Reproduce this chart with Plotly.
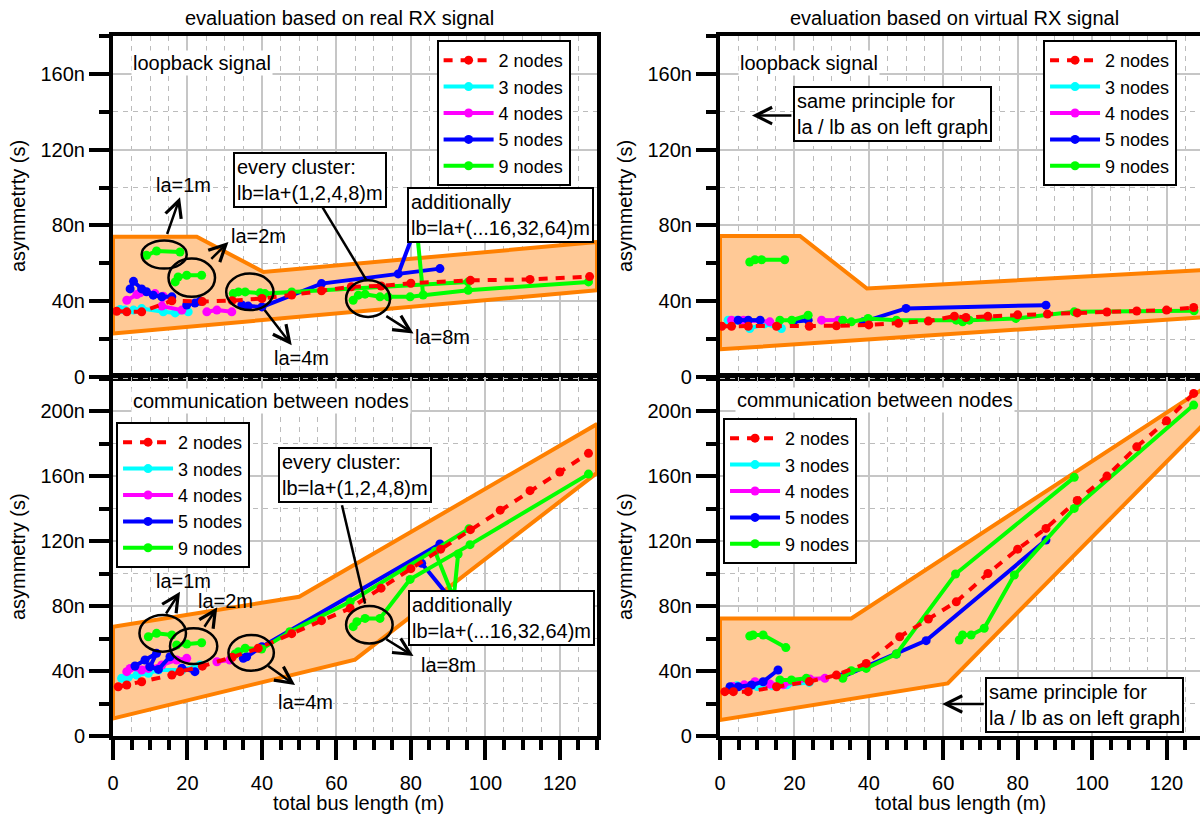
import plotly.graph_objects as go

FONT = "Liberation Sans, Arial, sans-serif"

# ---------------- data (x: total bus length in m, y: asymmetry in ns) ----------------
series_names = ["2 nodes", "3 nodes", "4 nodes", "5 nodes", "9 nodes"]
y_tick_vals_top = [0, 40, 80, 120, 160]
y_tick_text_top = ["0", "40n", "80n", "120n", "160n"]
y_tick_vals_bot = [0, 40, 80, 120, 160, 200]
y_tick_text_bot = ["0", "40n", "80n", "120n", "160n", "200n"]

# ---- top-left: loopback, real RX ----
band_tl_x = [0, 22.5, 40.4, 130, 130, 0, 0]
band_tl_y = [74, 74, 55.4, 71.2, 45.8, 23, 74]
red_tl_x = [1, 3.7, 7.7, 15.8, 24, 32, 40, 48, 56, 64, 72, 80, 96, 112, 128]
red_tl_y = [34.7, 34.4, 34.4, 40.2, 39.8, 40.3, 41.4, 43.3, 45.5, 47.6, 48, 49.5, 51, 51.5, 53]
cyan_tl_x = [1.9, 3.2, 5.5, 7.7, 13.5, 16.7, 20.2]
cyan_tl_y = [35.6, 35.3, 35.3, 36.1, 34.4, 33.8, 34.4]
mag_tl_x = [3.7, 6.4, 7.3, 11.3, 13.5, 13.1, 18.5, None, 25.2, 27.9, 31.9]
mag_tl_y = [40.5, 43.5, 44.4, 44, 42.6, 37.4, 35.3, None, 34.4, 35.3, 34.4]
blue_tl_x = [4.6, 5.5, 7.7, 9.0, 10.8, 13.1, 15.8, None, 19.8, 22, 23.4, None,
             34.6, 36.3, 40, 56, 87.8, None, 76.6, 81.5]
blue_tl_y = [46.5, 50.5, 46.5, 45, 43.2, 42.3, 42.3, None, 38, 39, 40, None,
             38, 37.4, 37, 49.3, 57.2, None, 54.4, 80]
green_tl_x = [9.0, 11.7, 18.0, None, 16.7, 17.5, 19.8, 23.8, None,
              32.3, 33.7, 35.5, 39.5, 40.8, 48, 95.4, None,
              64.5, 65.9, 67.7, 71.7, 73.9, 79.8, 95.4, 127.7, None, 83.3, 81.5]
green_tl_y = [64.2, 66.5, 66.0, None, 50.2, 52.8, 53.7, 53.7, None,
              44, 44.9, 44.9, 44.4, 44, 44.9, 50.2, None,
              40.5, 43.2, 43.7, 42.3, 42.3, 42.3, 45.8, 50.2, None, 43.3, 80]

# ---- top-right: loopback, virtual RX ----
band_tr_x = [0, 21.5, 39.5, 130, 130, 0, 0]
band_tr_y = [74.4, 74.4, 46.7, 56.5, 31.5, 14.6, 74.4]
red_tr_x = [0.5, 3.1, 7.6, 15.2, 24, 31.3, 40, 48, 56, 63, 66.1, 72, 80, 88, 96, 104, 112, 120, 127.3]
red_tr_y = [26.8, 26.8, 26.8, 26.8, 26.8, 27, 27.5, 28.3, 29.5, 32.1, 31.4, 32, 32.8, 33.2, 33.8, 34.3, 34.8, 35.3, 36.7]
cyan_tr_x = [2.2, 4.5, 8, 12, 16.5]
cyan_tr_y = [30, 30, 25.6, 28, 25.6]
mag_tr_x = [3.1, 6.3, 13.4, None, 27.3, 31.8]
mag_tr_y = [30, 30, 29.1, None, 30, 30]
blue_tr_x = [4.9, 7.6, 10.8, None, 19.7, 23.7, None, 38.5, 50, 87.6]
blue_tr_y = [30, 30, 30, None, 29.1, 30, None, 29.1, 36.2, 37.9]
green_tr_x = [8, 9.4, 11.2, 17.4, None, 16.1, 19.3, 23.7, None,
              33, 35.3, 39.8, 47.4, 63.5, 65.2, 67, 79.5, 95.2, 127.4]
green_tr_y = [60.7, 61.9, 61.9, 61.9, None, 30, 30, 32.6, None,
              30, 29.1, 30.9, 30, 30, 29.1, 30, 30.9, 34.4, 34.9]

# ---- bottom-left: communication, real RX ----
band_bl_x = [0, 50, 130, 130, 65, 0, 0]
band_bl_y = [67.3, 85.7, 192, 162, 47, 10.8, 67.3]
red_bl_x = [1.4, 3.7, 7.7, 15.8, 18, 24, 32, 39, 48, 56, 63.7, 72, 80, 88, 96, 104, 112, 120, 127.7]
red_bl_y = [30.3, 31.4, 33.4, 37.5, 39.6, 43, 48.5, 54, 63, 71, 78.6, 91, 103, 115, 127, 139, 151, 162.5, 174]
cyan_bl_x = [2.3, 4.1, 6.4, 9.5, 12.2, 18.5, 23.4]
cyan_bl_y = [35.5, 36.1, 37.5, 38.6, 40.6, 40.6, 43.7]
mag_bl_x = [3.7, 4.6, 7.7, 9.5, 13.1, 17.1, 19.8, None, 27.9, 31.4]
mag_bl_y = [39.6, 41.6, 40.6, 41.6, 43.7, 46.8, 47.8, None, 45.7, 46.8]
blue_bl_x = [5.9, 8.6, 11.7, 9.9, 12.2, 15.3, None, 18.5, 22, None,
             35, 35.9, 40, 87.8, None, 82.9, 90.5]
blue_bl_y = [43.1, 46.8, 50.9, 42.6, 41, 48.8, None, 41.7, 39.6, None,
             47.8, 48.8, 55, 118.2, None, 106.3, 85]
green_bl_x = [9.5, 11.7, 15.8, None, 17.1, 19.8, 23.8, None,
              32.8, 33.7, 35.5, 39.9, 47.5, 63.7, 95.6, None,
              64.5, 65.5, 67.7, 71.7, 79.8, 95.9, 127.7, None, 86.5, 91.5, 92.7]
green_bl_y = [61.1, 63.2, 62.2, None, 56, 56.6, 57.4, None,
              50.5, 51.9, 54, 53.5, 64.2, 82.6, 127.5, None,
              67.3, 70.4, 72.4, 72.4, 96.4, 117.8, 161.2, None, 113.5, 85, 112]

# ---- bottom-right: communication, virtual RX ----
band_br_x = [0, 35.3, 130, 130, 61.2, 0, 0]
band_br_y = [72.4, 72.4, 214, 192, 32.4, 9.8, 72.4]
red_br_x = [1.3, 3.6, 7.6, 15.2, 24, 31.3, 39.3, 48.3, 56, 63.5, 72, 80, 87.6, 96, 104, 112, 120, 127.3]
red_br_y = [27.3, 27.3, 27.3, 30.3, 33.5, 37.5, 44.7, 61.1, 72, 82.6, 100, 115, 127.8, 145, 160, 178, 194, 210.9]
cyan_br_x = [2.5, 4.5, 7, 10, 14, 18, 24]
cyan_br_y = [29, 31, 29, 30.5, 31, 31.5, 33]
mag_br_x = [3.5, 6.5, 9.4, 13.4, 17, 24.1, 28.2]
mag_br_y = [30.5, 31.5, 33.4, 32, 31.5, 35.1, 35.5]
blue_br_x = [2.7, 4.9, 8.5, 11.6, 15.6, None, 33, 47.4, 55.4, 87.6]
blue_br_y = [30.3, 30.3, 31.4, 33.4, 40.6, None, 36.5, 50.5, 58.7, 120.6]
green_br_x = [8, 8.9, 11.6, 17.7, None, 16.1, 19.2, 23.2, None,
              33, 35.3, 39.3, 47.4, 63.3, 95.2, None,
              64.3, 65.2, 67.5, 71, 79.1, 95.2, 127.3]
green_br_y = [61.5, 62.2, 62.2, 54.4, None, 34.5, 34.5, 35.5, None,
              35.5, 40.2, 41.6, 50.5, 99.7, 159.2, None,
              59.1, 62.2, 62.2, 66.3, 99.1, 140.1, 203.7]

# ---------------- figure ----------------
fig = go.Figure()
COLORS = ["#ff0000", "#00ffff", "#ff00ff", "#0000ff", "#00ff00"]

panels = [
    ("x", "y", "legend", (band_tl_x, band_tl_y),
     [(red_tl_x, red_tl_y), (cyan_tl_x, cyan_tl_y), (mag_tl_x, mag_tl_y), (blue_tl_x, blue_tl_y), (green_tl_x, green_tl_y)]),
    ("x2", "y2", "legend2", (band_tr_x, band_tr_y),
     [(red_tr_x, red_tr_y), (cyan_tr_x, cyan_tr_y), (mag_tr_x, mag_tr_y), (blue_tr_x, blue_tr_y), (green_tr_x, green_tr_y)]),
    ("x3", "y3", "legend3", (band_bl_x, band_bl_y),
     [(red_bl_x, red_bl_y), (cyan_bl_x, cyan_bl_y), (mag_bl_x, mag_bl_y), (blue_bl_x, blue_bl_y), (green_bl_x, green_bl_y)]),
    ("x4", "y4", "legend4", (band_br_x, band_br_y),
     [(red_br_x, red_br_y), (cyan_br_x, cyan_br_y), (mag_br_x, mag_br_y), (blue_br_x, blue_br_y), (green_br_x, green_br_y)]),
]

draw_order = [1, 2, 3, 4, 0]  # red drawn last, legend order kept via legendrank
for xa, ya, lg, band, series in panels:
    fig.add_trace(go.Scatter(x=band[0], y=band[1], mode="lines", fill="toself",
                             fillcolor="rgb(255,201,150)", line=dict(color="rgb(255,128,0)", width=4),
                             xaxis=xa, yaxis=ya, showlegend=False, hoverinfo="skip"))
    for i in draw_order:
        sx, sy = series[i]
        fig.add_trace(go.Scatter(
            x=sx, y=sy, mode="lines+markers", name=series_names[i],
            line=dict(color=COLORS[i], width=4, dash="9px,8px" if i == 0 else "solid"),
            marker=dict(color=COLORS[i], size=9, symbol="circle"),
            xaxis=xa, yaxis=ya, legend=lg, legendrank=i + 1, connectgaps=False))

# ---------------- axes ----------------
L_DOM = [0.0, 0.4453]
R_DOM = [0.5584, 1.0]
T_DOM = [0.5129, 1.0]
B_DOM = [0.0, 0.5129]
GRID = "#c6c6c6"
MGRID = "#bcbcbc"


def xcfg(domain, rng, anchor, bottom):
    return dict(domain=domain, range=rng, anchor=anchor, showline=True, linecolor="black",
                linewidth=4, mirror=True, zeroline=False,
                tickmode="linear", tick0=0, dtick=20,
                ticks="outside" if bottom else "", ticklen=20, tickwidth=4, tickcolor="black",
                showticklabels=bottom, ticklabelstandoff=6,
                tickfont=dict(family=FONT, size=20, color="black"),
                showgrid=True, gridcolor=GRID, gridwidth=2,
                minor=dict(tickmode="linear", tick0=0, dtick=5,
                           ticks="outside" if bottom else "", ticklen=10, tickwidth=4, tickcolor="black",
                           showgrid=True, gridcolor=MGRID, gridwidth=1.2, griddash="5px,5px"))


def ycfg(domain, rng, anchor, vals, texts, mirror):
    return dict(domain=domain, range=rng, anchor=anchor, showline=True, linecolor="black",
                linewidth=4, mirror=mirror, zeroline=False,
                tickmode="array", tickvals=vals, ticktext=texts,
                ticks="outside", ticklen=20, tickwidth=4, tickcolor="black",
                tickfont=dict(family=FONT, size=20, color="black"),
                showgrid=True, gridcolor=GRID, gridwidth=2,
                minor=dict(tickmode="linear", tick0=0, dtick=20,
                           ticks="outside", ticklen=10, tickwidth=4, tickcolor="black",
                           showgrid=True, gridcolor=MGRID, gridwidth=1.2, griddash="5px,5px"))


fig.update_layout(
    xaxis=xcfg(L_DOM, [0, 130], "y", False),
    yaxis=ycfg(T_DOM, [0, 180], "x", y_tick_vals_top, y_tick_text_top, True),
    xaxis2=xcfg(R_DOM, [0, 129], "y2", False),
    yaxis2=ycfg(T_DOM, [0, 180], "x2", y_tick_vals_top, y_tick_text_top, False),
    xaxis3=xcfg(L_DOM, [0, 130], "y3", True),
    yaxis3=ycfg(B_DOM, [0, 221], "x3", y_tick_vals_bot, y_tick_text_bot, True),
    xaxis4=xcfg(R_DOM, [0, 129], "y4", True),
    yaxis4=ycfg(B_DOM, [0, 221], "x4", y_tick_vals_bot, y_tick_text_bot, False),
)


def leg(x, y):
    return dict(x=x, y=y, xanchor="left", yanchor="top", bordercolor="black", borderwidth=2,
                bgcolor="white", font=dict(family=FONT, size=18, color="black"),
                itemwidth=50, tracegroupgap=0)


fig.update_layout(legend=leg(0.2977, 0.9943), legend2=leg(0.8556, 0.9943),
                  legend3=leg(0.0028, 0.4486), legend4=leg(0.5612, 0.4543))

# ---------------- annotations & shapes ----------------
ann = []
shapes = []
TXT = dict(family=FONT, size=20, color="black")


def text(xr, yr, x, y, s, xanchor="center", yanchor="middle", bg=None):
    d = dict(xref=xr, yref=yr, x=x, y=y, text=s, showarrow=False, font=TXT,
             xanchor=xanchor, yanchor=yanchor)
    if bg:
        d["bgcolor"] = bg
    ann.append(d)


def box(xr, yr, x, y, s):
    ann.append(dict(xref=xr, yref=yr, x=x, y=y, text=s, showarrow=False, font=TXT,
                    xanchor="left", yanchor="top", align="left", bgcolor="white",
                    bordercolor="black", borderwidth=2, borderpad=2))


def arrow(xr, yr, x0, y0, x1, y1):
    ann.append(dict(xref=xr, yref=yr, axref=xr, ayref=yr, x=x1, y=y1, ax=x0, ay=y0,
                    text="", showarrow=True, arrowhead=5, arrowsize=1.3, arrowwidth=2.5,
                    arrowcolor="black", standoff=0, startstandoff=0))


def ellipse(xr, yr, x0, y0, x1, y1):
    shapes.append(dict(type="circle", xref=xr, yref=yr, x0=x0, y0=y0, x1=x1, y1=y1,
                       line=dict(color="black", width=2.5), layer="above"))


def seg(xr, yr, x0, y0, x1, y1):
    shapes.append(dict(type="line", xref=xr, yref=yr, x0=x0, y0=y0, x1=x1, y1=y1,
                       line=dict(color="black", width=2.5), layer="above"))


# top-left
text("x", "y", 4.8, 165.8, "loopback signal", xanchor="left", bg="white")
ellipse("x", "y", 7.7, 57.2, 19.8, 72.1)
ellipse("x", "y", 14.9, 42.3, 27.4, 62.5)
ellipse("x", "y", 30.4, 35.3, 43.1, 54.6)
ellipse("x", "y", 62.6, 31.7, 74.4, 51)
arrow("x", "y", 14.4, 74.7, 18, 94.9)
arrow("x", "y", 26, 61.6, 31, 71.2)
arrow("x", "y", 40.4, 36.2, 48, 16.8)
arrow("x", "y", 73, 32.6, 80.7, 23)
text("x", "y", 18.9, 101.6, "la=1m")
text("x", "y", 39, 74.2, "la=2m")
text("x", "y", 50.5, 10, "la=4m")
text("x", "y", 88.6, 21, "la=8m")
seg("x", "y", 56, 90.5, 68.1, 51)
box("x", "y", 32.3, 119, "every cluster:<br>lb=la+(1,2,4,8)m")
box("x", "y", 78.9, 100.5, "additionally<br>lb=la+(...16,32,64)m")

# top-right
text("x2", "y2", 4.8, 165.8, "loopback signal", xanchor="left", bg="white")
box("x2", "y2", 19.6, 153.7, "same principle for<br>la / lb as on left graph")
arrow("x2", "y2", 19.6, 138, 8.6, 138)

# bottom-left
text("x3", "y3", 4.8, 206, "communication between nodes", xanchor="left", bg="white")
ellipse("x3", "y3", 7.1, 51.9, 19.6, 74.5)
ellipse("x3", "y3", 15.3, 44.3, 28, 66.3)
ellipse("x3", "y3", 31, 40.2, 43.2, 62.2)
ellipse("x3", "y3", 62.6, 57, 75.1, 80)
arrow("x3", "y3", 14, 74.5, 18, 88.8)
arrow("x3", "y3", 24.3, 66.3, 28, 79.2)
arrow("x3", "y3", 41.3, 43.7, 48.9, 31.4)
arrow("x3", "y3", 73, 60.1, 80.7, 49.2)
text("x3", "y3", 18.9, 95.4, "la=1m")
text("x3", "y3", 30.1, 83, "la=2m")
text("x3", "y3", 51.6, 21.1, "la=4m")
text("x3", "y3", 90, 43.7, "la=8m")
seg("x3", "y3", 61.5, 142, 67.7, 81.5)
box("x3", "y3", 44.3, 177.8, "every cluster:<br>lb=la+(1,2,4,8)m")
box("x3", "y3", 79.3, 90, "additionally<br>lb=la+(...16,32,64)m")

# bottom-right
text("x4", "y4", 4, 206.8, "communication between nodes", xanchor="left", bg="white")
box("x4", "y4", 71.3, 36.5, "same principle for<br>la / lb as on left graph")
arrow("x4", "y4", 71.3, 19.7, 59.7, 19.7)

# column titles and axis titles (paper coords)
text("paper", "paper", 0.2088, 1.0257, "evaluation based on real RX signal")
text("paper", "paper", 0.7746, 1.0257, "evaluation based on virtual RX signal")
text("paper", "paper", 0.2254, -0.0957, "total bus length (m)")
text("paper", "paper", 0.7801, -0.0957, "total bus length (m)")
for xp, yp, s in [(-0.0874, 0.757, "asymmetrty (s)"), (-0.0874, 0.257, "asymmetry (s)"),
                  (0.471, 0.757, "asymmetrty (s)"), (0.471, 0.257, "asymmetry (s)")]:
    ann.append(dict(xref="paper", yref="paper", x=xp, y=yp, text=s, showarrow=False,
                    font=TXT, textangle=-90, xanchor="center", yanchor="middle"))

fig.update_layout(
    annotations=ann, shapes=shapes,
    width=1200, height=816, autosize=False,
    margin=dict(l=113, r=0, t=36, b=80, pad=0),
    paper_bgcolor="white", plot_bgcolor="white",
    font=dict(family=FONT, size=20, color="black"),
    hovermode=False,
)

fig.write_html("out.html", include_plotlyjs=True, config={"displayModeBar": False},
               post_script="document.body.style.margin='0';document.body.style.overflow='hidden';")
